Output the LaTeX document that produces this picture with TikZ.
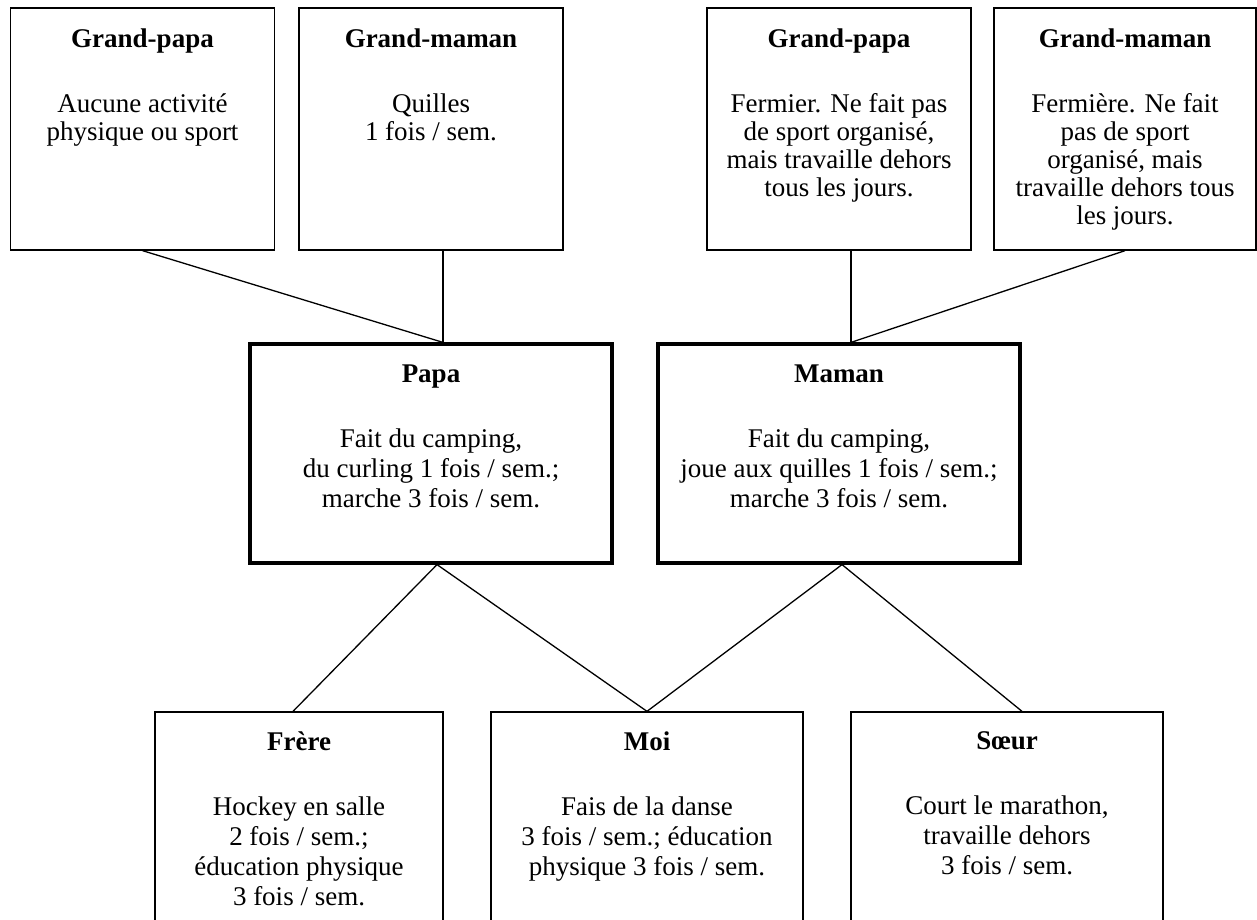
\documentclass[tikz,border=0pt]{standalone}
\usepackage{fontspec}
\setmainfont{Liberation Serif}
\usetikzlibrary{positioning}

\begin{document}
\begin{tikzpicture}[x=1pt, y=-1pt,
  box/.style={draw, line width=1.3pt, inner sep=0pt},
  topbox/.style={box, minimum width=264pt, minimum height=242pt},
  parent/.style={draw, line width=3.2pt, inner sep=0pt,
                 minimum width=362pt, minimum height=219pt},
  kid/.style={box, minimum height=300pt},
  txt/.style={anchor=north, inner sep=0pt, align=center,
              font=\fontsize{27}{30}\selectfont},
  toptxt/.style={txt, font=\fontsize{27}{28}\selectfont},
  link/.style={line width=1.3pt}
]
  \useasboundingbox (0,0) rectangle (1257,920);
  \clip (0,0) rectangle (1257,920);

  % grandparents
  \node[topbox] (gp1) at (142.5,129) {};
  \node[topbox] (gm1) at (431,129) {};
  \node[topbox] (gp2) at (839,129) {};
  \node[topbox, minimum width=262pt] (gm2) at (1125,129) {};
  \node[toptxt] (gp1t) at ([yshift=-21pt]gp1.north)
    {\textbf{Grand-papa}\\[37pt]Aucune activité\\physique ou sport};
  \node[toptxt] (gm1t) at ([yshift=-21pt]gm1.north)
    {\textbf{Grand-maman}\\[37pt]Quilles\\1 fois / sem.};
  \node[toptxt] (gp2t) at ([yshift=-21pt]gp2.north)
    {\textbf{Grand-papa}\\[37pt]Fermier. Ne fait pas\\de sport organisé,\\mais travaille dehors\\tous les jours.};
  \node[toptxt] (gm2t) at ([yshift=-21pt]gm2.north)
    {\textbf{Grand-maman}\\[37pt]Fermière. Ne fait\\pas de sport\\organisé, mais\\travaille dehors tous\\les jours.};

  % parents
  \node[parent] (papa) at (431,453.5) {};
  \node[parent] (maman) at (839,453.5) {};
  \node[txt] (papat) at ([yshift=-22pt]papa.north)
    {\textbf{Papa}\\[35pt]Fait du camping,\\du curling 1 fois / sem.;\\marche 3 fois / sem.};
  \node[txt] (mamant) at ([yshift=-22pt]maman.north)
    {\textbf{Maman}\\[35pt]Fait du camping,\\joue aux quilles 1 fois / sem.;\\marche 3 fois / sem.};

  % children
  \node[kid, minimum width=288pt] (frere) at (299,862) {};
  \node[kid, minimum width=312pt] (moi) at (647,862) {};
  \node[kid, minimum width=312pt] (soeur) at (1007,862) {};
  \node[txt] (freret) at ([yshift=-20pt]frere.north)
    {\textbf{Frère}\\[35pt]Hockey en salle\\2 fois / sem.;\\éducation physique\\3 fois / sem.};
  \node[txt] (moit) at ([yshift=-20pt]moi.north)
    {\textbf{Moi}\\[35pt]Fais de la danse\\3 fois / sem.; éducation\\physique 3 fois / sem.};
  \node[txt] (soeurt) at ([yshift=-20pt]soeur.north)
    {\textbf{Sœur}\\[35pt]Court le marathon,\\travaille dehors\\3 fois / sem.};

  % links
  \draw[link] (gp1.south) -- ([xshift=12pt]papa.north);
  \draw[link] ([xshift=12pt]gm1.south) -- ([xshift=12pt]papa.north);
  \draw[link] ([xshift=12pt]gp2.south) -- ([xshift=12pt]maman.north);
  \draw[link] (gm2.south) -- ([xshift=12pt]maman.north);
  \draw[link] ([xshift=6pt]papa.south) -- ([xshift=-6pt]frere.north);
  \draw[link] ([xshift=6pt]papa.south) -- (moi.north);
  \draw[link] ([xshift=3pt]maman.south) -- (moi.north);
  \draw[link] ([xshift=3pt]maman.south) -- ([xshift=15pt]soeur.north);
\end{tikzpicture}
\end{document}
